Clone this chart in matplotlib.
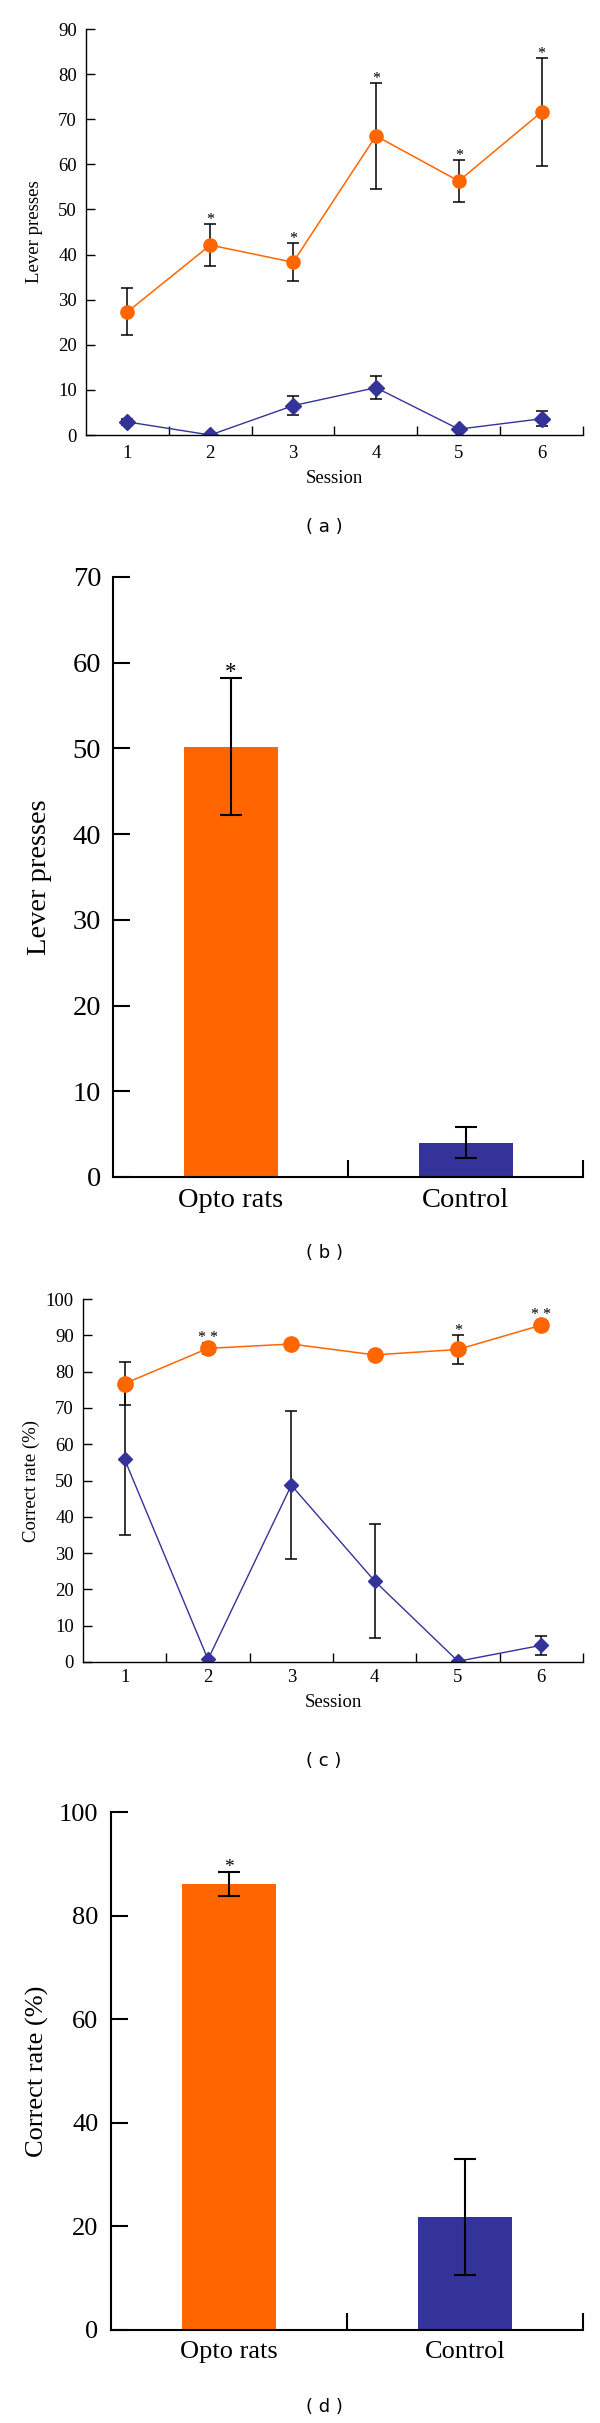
import matplotlib
matplotlib.use('Agg')
import matplotlib.pyplot as plt
import numpy as np

# ---- data ----
sessions = [1, 2, 3, 4, 5, 6]

# (a) lever presses per session
a_opto = [27.3, 42.1, 38.3, 66.3, 56.3, 71.6]
a_opto_err = [5.2, 4.6, 4.2, 11.7, 4.7, 12.0]
a_ctrl = [2.9, 0.0, 6.5, 10.5, 1.3, 3.6]
a_ctrl_err = [0.7, 0.0, 2.1, 2.5, 0.5, 1.7]
a_stars = ['', '*', '*', '*', '*', '*']

# (b) mean lever presses
groups = ['Opto rats', 'Control']
b_vals = [50.2, 4.0]
b_err = [8.0, 1.8]
b_stars = ['*', '']

# (c) correct rate per session
c_opto = [76.7, 86.4, 87.6, 84.6, 86.1, 92.8]
c_opto_err = [5.9, 1.6, 0.6, 0.6, 4.1, 1.0]
c_ctrl = [55.8, 0.7, 48.7, 22.3, 0.2, 4.6]
c_ctrl_err = [20.8, 0.0, 20.4, 15.6, 0.0, 2.7]
c_stars = ['', '* *', '', '', '*', '* *']

# (d) mean correct rate
d_vals = [86.1, 21.8]
d_err = [2.4, 11.2]
d_stars = ['*', '']

ORANGE = '#FF6600'
BLUE = '#333399'
SERIF = 'Liberation Serif'

W, H = 600, 2423
fig = plt.figure(figsize=(W / 100, H / 100), dpi=100)


def px_axes(l, t, r, b):
    return fig.add_axes([l / W, 1 - b / H, (r - l) / W, (b - t) / H])


def style(ax, fs, ticklen, lw, ypad, xpad):
    for s in ['top', 'right']:
        ax.spines[s].set_visible(False)
    for s in ['left', 'bottom']:
        ax.spines[s].set_linewidth(lw)
    ax.tick_params(axis='y', direction='in', length=ticklen, width=lw,
                   labelsize=fs, pad=ypad)
    ax.tick_params(axis='x', which='major', length=0, labelsize=fs, pad=xpad)
    ax.tick_params(axis='x', which='minor', direction='in', length=ticklen,
                   width=lw)
    for lab in ax.get_xticklabels() + ax.get_yticklabels():
        lab.set_family(SERIF)


def line_panel(ax, opto, opto_err, ctrl, ctrl_err, stars, ymax, ystep,
               ylabel, fs, ms_o, ms_d, ylpad):
    ax.errorbar(sessions, opto, yerr=opto_err, fmt='none', ecolor='black',
                elinewidth=1.1, capsize=4.5, capthick=1.1, zorder=1)
    ax.errorbar(sessions, ctrl, yerr=ctrl_err, fmt='none', ecolor='black',
                elinewidth=1.1, capsize=4.5, capthick=1.1, zorder=1)
    ax.plot(sessions, opto, color=ORANGE, lw=1.1, marker='o', ms=ms_o,
            zorder=2)
    ax.plot(sessions, ctrl, color=BLUE, lw=1.0, marker='D', ms=ms_d,
            zorder=2)
    for x, y, e, s in zip(sessions, opto, opto_err, stars):
        if s:
            ax.text(x, y + max(e, 1.8), s, ha='center', va='baseline',
                    fontsize=11.5, family=SERIF)
    ax.set_xlim(0.5, 6.5)
    ax.set_ylim(0, ymax)
    ax.set_yticks(np.arange(0, ymax + 1, ystep))
    ax.set_xticks(sessions)
    ax.set_xticks(np.arange(1.5, 6.6, 1), minor=True)
    ax.set_xlabel('Session', fontsize=fs, family=SERIF, labelpad=6)
    ax.set_ylabel(ylabel, fontsize=fs, family=SERIF, labelpad=ylpad)
    ax.patch.set_alpha(0)


def bar_panel(ax, vals, err, stars, ymax, ystep, ylabel, fs, star_fs,
              ylpad):
    x = np.arange(len(groups))
    ax.bar(x, vals, width=0.4, color=[ORANGE, BLUE], zorder=1)
    ax.errorbar(x, vals, yerr=err, fmt='none', ecolor='black',
                elinewidth=1.5, capsize=8, capthick=1.5, zorder=3)
    for xi, v, e, s in zip(x, vals, err, stars):
        if s:
            ax.text(xi, v + e, s, ha='center', va='baseline',
                    fontsize=star_fs, family=SERIF)
    ax.set_xlim(-0.5, 1.5)
    ax.set_ylim(0, ymax)
    ax.set_yticks(np.arange(0, ymax + 1, ystep))
    ax.set_xticks(x)
    ax.set_xticklabels(groups)
    ax.set_xticks([0.5, 1.5], minor=True)
    ax.set_ylabel(ylabel, fontsize=fs, family=SERIF, labelpad=ylpad)


# (a)
ax_a = px_axes(86, 29, 583, 435)
line_panel(ax_a, a_opto, a_opto_err, a_ctrl, a_ctrl_err, a_stars, 90, 10,
           'Lever presses', 13.5, 9.5, 8, 11)
style(ax_a, 13.5, 6.5, 1.0, 6.5, 7)

# (b)
ax_b = px_axes(113, 577, 583, 1177)
bar_panel(ax_b, b_vals, b_err, b_stars, 70, 10, 'Lever presses', 20.5, 16.5,
          15)
style(ax_b, 20.5, 12, 1.5, 8.5, 8)

# (c)
ax_c = px_axes(83, 1299, 583, 1662)
line_panel(ax_c, c_opto, c_opto_err, c_ctrl, c_ctrl_err, c_stars, 100, 10,
           'Correct rate (%)', 13.5, 11, 7.5, 4)
style(ax_c, 13.5, 6.5, 1.0, 6.5, 5)

# (d)
ax_d = px_axes(111, 1812, 583, 2330)
bar_panel(ax_d, d_vals, d_err, d_stars, 100, 20, 'Correct rate (%)', 19, 14,
          7)
style(ax_d, 19, 12, 1.5, 9, 8)

# panel letters
for lab, ypx in [('( a )', 527), ('( b )', 1253), ('( c )', 1761),
                 ('( d )', 2407)]:
    fig.text(324 / W, 1 - ypx / H, lab, ha='center', va='center',
             fontsize=13, family='DejaVu Sans')

fig.savefig('out.png', dpi=100)
